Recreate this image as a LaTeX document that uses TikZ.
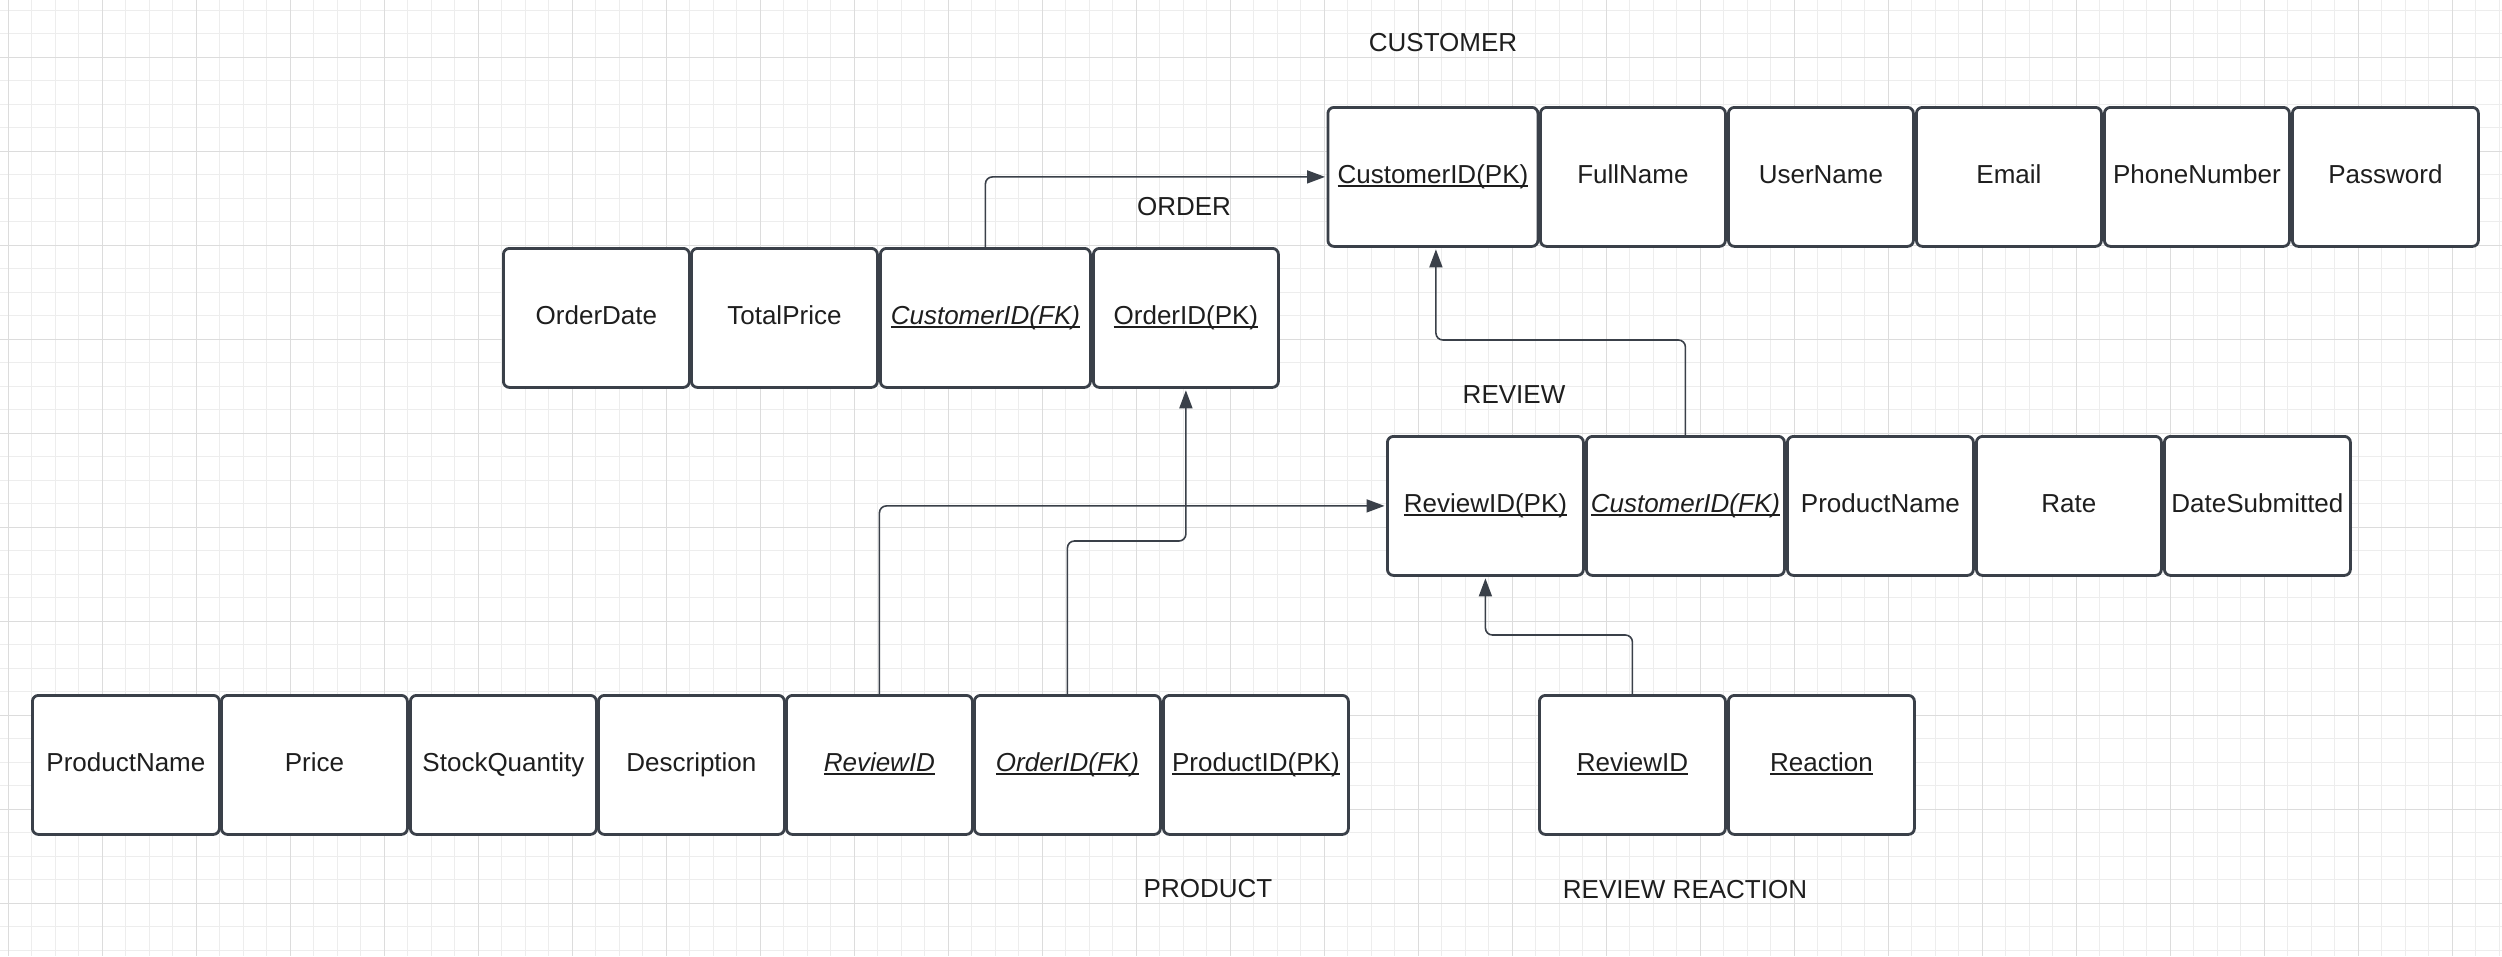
\documentclass[tikz,border=0pt]{standalone}
\usepackage{fontspec}
\setmainfont{Liberation Sans}
\usetikzlibrary{arrows.meta}
\definecolor{edgec}{HTML}{3A4049}
\definecolor{txtc}{HTML}{1E1E1E}
\definecolor{gminor}{HTML}{EDEDED}
\definecolor{gmajor}{HTML}{DCDCDC}
\newcommand\ulx[1]{\setbox0\hbox{#1}\rlap{\rule[-3pt]{\wd0}{1.6pt}}\box0}
\tikzset{
  attr/.style={draw=edgec, line width=2.8pt, rounded corners=6pt, fill=white,
    minimum height=139pt, inner sep=0pt, anchor=north west, text=txtc,
    text height=19pt, text depth=5pt,
    font=\fontsize{26}{31}\selectfont},
  title/.style={inner sep=0pt, text=txtc, font=\fontsize{26}{31}\selectfont},
  conn/.style={draw=edgec, line width=1.6pt, rounded corners=7pt},
  arr/.style={conn, -{Triangle[length=18pt,width=13pt]}, shorten >=1.5pt}
}
\begin{document}
\begin{tikzpicture}[x=1pt,y=-1pt]
\useasboundingbox (0,0) rectangle (2502,956);
\fill[white] (0,0) rectangle (2502,956);
% grid
\foreach \i in {0,...,106}{\pgfmathsetmacro\xx{8.3+23.5*\i}\draw[gminor,line width=1.1pt] (\xx,0) -- (\xx,956);}
\foreach \i in {0,...,40}{\pgfmathsetmacro\yy{10.3+23.5*\i}\draw[gminor,line width=1.1pt] (0,\yy) -- (2502,\yy);}
\foreach \i in {0,...,26}{\pgfmathsetmacro\xx{8.3+94*\i}\draw[gmajor,line width=1.4pt] (\xx,0) -- (\xx,956);}
\foreach \i in {0,...,10}{\pgfmathsetmacro\yy{57.3+94*\i}\draw[gmajor,line width=1.4pt] (0,\yy) -- (2502,\yy);}

% CUSTOMER
\node[title] (tcust) at (1443,43) {CUSTOMER};
\node[attr, minimum width=210pt] (cpk) at (1326.5,106) {\ulx{CustomerID(PK)}};
\node[attr, minimum width=185pt] (cfull) at (1539,106) {FullName};
\node[attr, minimum width=185pt] (cuser) at (1727,106) {UserName};
\node[attr, minimum width=185pt] (cmail) at (1915,106) {Email};
\node[attr, minimum width=185pt] (cphone) at (2103,106) {PhoneNumber};
\node[attr, minimum width=186pt] (cpass) at (2291,106) {Password};

% ORDER
\node[title] (torder) at (1184,207) {ORDER};
\node[attr, minimum width=186pt] (odate) at (502,247) {OrderDate};
\node[attr, minimum width=186pt] (ototal) at (690,247) {TotalPrice};
\node[attr, minimum width=210pt] (ocust) at (879,247) {\ulx{\itshape CustomerID(FK)}};
\node[attr, minimum width=185pt] (opk) at (1092,247) {\ulx{OrderID(PK)}};

% REVIEW
\node[title] (treview) at (1514,395) {REVIEW};
\node[attr, minimum width=196pt] (rpk) at (1386,435) {\ulx{ReviewID(PK)}};
\node[attr, minimum width=198pt] (rcust) at (1585,435) {\ulx{\itshape CustomerID(FK)}};
\node[attr, minimum width=186pt] (rpname) at (1786,435) {ProductName};
\node[attr, minimum width=185pt] (rrate) at (1975,435) {Rate};
\node[attr, minimum width=186pt] (rdate) at (2163,435) {DateSubmitted};

% PRODUCT
\node[title] (tproduct) at (1208,889) {PRODUCT};
\node[attr, minimum width=187pt] (pname) at (31,694) {ProductName};
\node[attr, minimum width=186pt] (pprice) at (220,694) {Price};
\node[attr, minimum width=186pt] (pstock) at (409,694) {StockQuantity};
\node[attr, minimum width=186pt] (pdesc) at (597,694) {Description};
\node[attr, minimum width=186pt] (preview) at (785,694) {\ulx{\itshape ReviewID}};
\node[attr, minimum width=186pt] (porder) at (973,694) {\ulx{\itshape OrderID(FK)}};
\node[attr, minimum width=185pt] (ppk) at (1162,694) {\ulx{ProductID(PK)}};

% REVIEW REACTION
\node[title] (trr) at (1685,890) {REVIEW REACTION};
\node[attr, minimum width=186pt] (rrid) at (1538,694) {\ulx{ReviewID}};
\node[attr, minimum width=186pt] (rrreact) at (1727,694) {\ulx{Reaction}};

% connectors
\draw[arr] (ocust.north) |- (cpk.west);
\draw[arr] (rcust.north) -- ++(0,-95) -| ([xshift=3pt]cpk.south);
\draw[arr] (preview.north) |- (rpk.west);
\draw[arr] (porder.north) -- ++(0,-153) -| (opk.south);
\draw[arr] (rrid.north) -- ++(0,-59) -| (rpk.south);
\end{tikzpicture}
\end{document}
